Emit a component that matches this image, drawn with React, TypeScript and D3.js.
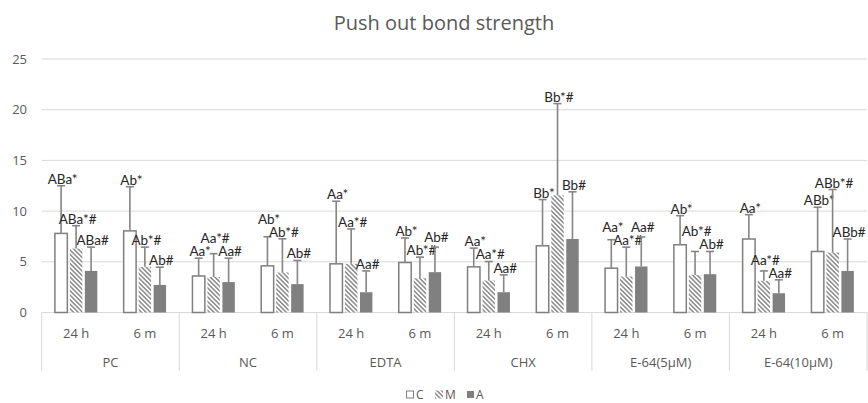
import React from "react";
import * as d3 from "d3";

// categories
const groups = ["PC", "NC", "EDTA", "CHX", "E-64(5µM)", "E-64(10µM)"];
const times = ["24 h", "6 m"];
const seriesNames = ["C", "M", "A"];

// means, in group/time order (PC 24h, PC 6m, NC 24h, ...)
const meanC = [7.8, 8.05, 3.6, 4.6, 4.8, 4.93, 4.5, 6.58, 4.37, 6.68, 7.25, 6.02];
const meanM = [6.3, 4.5, 3.5, 3.94, 4.8, 3.38, 3.15, 11.56, 3.55, 3.71, 3.12, 5.92];
const meanA = [4.1, 2.72, 3.0, 2.8, 2.0, 3.98, 2.0, 7.25, 4.54, 3.78, 1.9, 4.1];

// standard deviations (upper error bars)
const sdC = [4.7, 4.35, 1.76, 2.87, 6.17, 2.42, 1.85, 4.56, 2.81, 2.87, 2.4, 4.36];
const sdM = [2.26, 1.95, 2.3, 3.33, 3.44, 2.08, 1.88, 9.04, 2.9, 2.31, 0.98, 6.21];
const sdA = [2.35, 1.75, 2.36, 2.33, 2.1, 2.47, 1.71, 4.65, 2.91, 2.24, 1.32, 3.15];

// significance letters
const labC = ["ABa*", "Ab*", "Aa*", "Ab*", "Aa*", "Ab*", "Aa*", "Bb*", "Aa*", "Ab*", "Aa*", "ABb*"];
const labM = ["ABa*#", "Ab*#", "Aa*#", "Ab*#", "Aa*#", "Ab*#", "Aa*#", "Bb*#", "Aa*#", "Ab*#", "Aa*#", "ABb*#"];
const labA = ["ABa#", "Ab#", "Aa#", "Ab#", "Aa#", "Ab#", "Aa#", "Bb#", "Aa#", "Ab#", "Aa#", "ABb#"];

const yTicks = [0, 5, 10, 15, 20, 25];

const W = 868;
const H = 403;
const FONT = "'Open Sans', sans-serif";
const GRAY = "#595959";
const LINE_H = 13;

export default function App() {
  const y = d3.scaleLinear().domain([0, 25]).range([312.5, 59]);
  const x0 = d3.scaleBand().domain(groups).range([41.7, 867]);
  const x1 = d3.scaleBand().domain(times).range([0, x0.bandwidth()]);
  const x2 = d3
    .scaleBand()
    .domain(seriesNames)
    .range([0, x1.bandwidth()])
    .paddingInner(0.17)
    .paddingOuter(0.88);

  const means = { C: meanC, M: meanM, A: meanA };
  const sds = { C: sdC, M: sdM, A: sdA };
  const labs = { C: labC, M: labM, A: labA };
  const fills = { C: "#ffffff", M: "url(#hatch)", A: "#808080" };
  const bw = x2.bandwidth();

  const cells = [];
  groups.forEach((g, gi) => {
    times.forEach((t, ti) => {
      const idx = gi * 2 + ti;
      const sub = seriesNames.map((s) => {
        const m = means[s][idx];
        const e = m + sds[s][idx];
        const x = x0(g) + x1(t) + x2(s);
        const text = labs[s][idx];
        return { g, t, s, idx, x, m, e, text, cx: x + bw / 2, by: y(e) - 2, w: text.length * 7.2 };
      });
      // lift labels that would collide with a neighbour
      for (let pass = 0; pass < 2; pass++) {
        [[0, 1], [1, 2], [0, 2]].forEach(([i, j]) => {
          const a = sub[i];
          const b = sub[j];
          const hOverlap = Math.abs(a.cx - b.cx) < (a.w + b.w) / 2;
          if (hOverlap && Math.abs(a.by - b.by) < LINE_H) {
            if (a.by <= b.by) a.by = b.by - LINE_H;
            else b.by = a.by - LINE_H;
          }
        });
      }
      cells.push(...sub);
    });
  });

  return (
    <svg
      width={W}
      height={H}
      style={{ position: "absolute", left: 0, top: 0, background: "#fff" }}
      fontFamily={FONT}
    >
      <defs>
        <pattern
          id="hatch"
          patternUnits="userSpaceOnUse"
          width={3.2}
          height={3.2}
          patternTransform="rotate(-45)"
        >
          <rect width={3.2} height={3.2} fill="#fff" />
          <line x1={0.8} y1={0} x2={0.8} y2={3.2} stroke="#8a8a8a" strokeWidth={1.5} />
        </pattern>
      </defs>

      <text x={444} y={30} textAnchor="middle" fontSize={20} fill={GRAY}>
        Push out bond strength
      </text>

      {/* grid + y ticks */}
      {yTicks.map((v) => (
        <g key={v}>
          <line x1={41.7} x2={867} y1={y(v)} y2={y(v)} stroke="#d9d9d9" strokeWidth={1} />
          <text x={27} y={y(v) + 4.5} textAnchor="end" fontSize={13} fill={GRAY}>
            {v}
          </text>
        </g>
      ))}

      {/* bars */}
      {cells.map((c) => (
        <rect
          key={`b-${c.idx}-${c.s}`}
          x={c.x}
          y={y(c.m)}
          width={bw}
          height={y(0) - y(c.m)}
          fill={fills[c.s]}
          stroke={c.s === "C" ? "#7f7f7f" : "none"}
          strokeWidth={1.5}
        />
      ))}

      {/* error bars + labels */}
      {cells.map((c) => (
        <g key={`e-${c.idx}-${c.s}`}>
          <line x1={c.cx} x2={c.cx} y1={y(c.m)} y2={y(c.e)} stroke="#858585" strokeWidth={1.6} />
          <line x1={c.cx - 4} x2={c.cx + 4} y1={y(c.e)} y2={y(c.e)} stroke="#858585" strokeWidth={1.6} />
          <text
            x={c.cx + 1.5}
            y={c.by}
            textAnchor="middle"
            fontFamily="Lato, sans-serif"
            fontSize={13.5}
            fill="#262626"
          >
            {c.text}
          </text>
        </g>
      ))}

      {/* category axis */}
      {groups.map((g, gi) => (
        <g key={g}>
          <line x1={x0(g)} x2={x0(g)} y1={312.5} y2={371} stroke="#d9d9d9" />
          {gi === groups.length - 1 && (
            <line
              x1={x0(g) + x0.bandwidth()}
              x2={x0(g) + x0.bandwidth()}
              y1={312.5}
              y2={371}
              stroke="#d9d9d9"
            />
          )}
          {times.map((t) => (
            <text
              key={t}
              x={x0(g) + x1(t) + x1.bandwidth() / 2}
              y={338}
              textAnchor="middle"
              fontSize={13}
              fill={GRAY}
            >
              {t}
            </text>
          ))}
          <text x={x0(g) + x0.bandwidth() / 2} y={367} textAnchor="middle" fontSize={13} fill={GRAY}>
            {g}
          </text>
        </g>
      ))}

      {/* legend */}
      <g fontSize={12} fill={GRAY}>
        <rect x={406.5} y={391} width={7} height={7} fill="#fff" stroke="#7f7f7f" strokeWidth={1} />
        <text x={416} y={399}>C</text>
        <rect x={435} y={390.5} width={8} height={8} fill="url(#hatch)" />
        <text x={445} y={399}>M</text>
        <rect x={467} y={391} width={7} height={7} fill="#808080" />
        <text x={476} y={399}>A</text>
      </g>
    </svg>
  );
}
